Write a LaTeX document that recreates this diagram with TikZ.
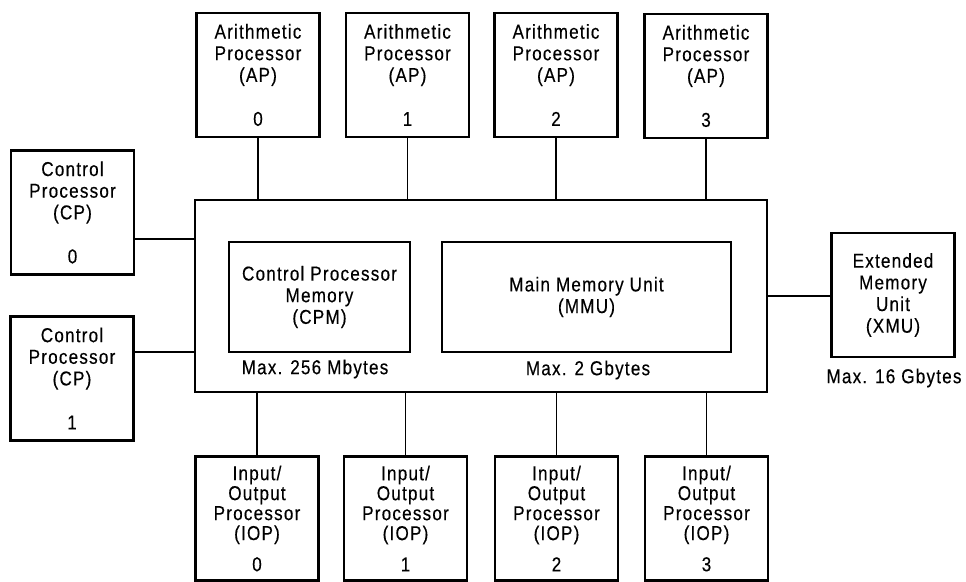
\documentclass[tikz,border=0pt]{standalone}
\usepackage{fontspec}
\setmainfont{Liberation Sans}[FakeStretch=0.85, LetterSpace=6, FakeBold=0.3]
\usetikzlibrary{calc}

\begin{document}
\begin{tikzpicture}[
  x=0.025cm, y=-0.025cm,
  unit/.style={
    draw,
    line width=1.8pt,
    align=center,
    minimum width=3.08cm,
    minimum height=3.1cm,
    inner sep=0pt,
    font=\fontsize{14.3}{15.4}\selectfont
  },
  iounit/.style={
    unit,
    font=\fontsize{14.3}{14.2}\selectfont
  },
  memory/.style={
    draw,
    line width=1.8pt,
    align=center,
    minimum height=2.75cm,
    inner sep=0pt,
    font=\fontsize{14.3}{15.4}\selectfont
  },
  sizenote/.style={font=\fontsize{14.3}{15.4}\selectfont, inner sep=0pt},
  bus/.style={line width=0.9pt}
]
  \useasboundingbox (0,0) rectangle (966,582);

  % shared memory frame
  \node[draw, line width=0.9pt, minimum width=14.3cm, minimum height=4.8cm] (main) at (481,296) {};
  \node[memory, minimum width=4.525cm] (cpm) at (319.5,297)
    {Control Processor\\Memory\\(CPM)};
  \node[memory, minimum width=7.225cm] (mmu) at (586.5,297)
    {Main Memory Unit\\(MMU)};
  \node[sizenote] (cpmsize) at (315,369) {Max. 256 Mbytes};
  \node[sizenote] (mmusize) at (588,370) {Max. 2 Gbytes};

  % arithmetic processors
  \node[unit] (ap0) at (258,75) {Arithmetic\\Processor\\(AP)\\[15.9pt]0};
  \node[unit] (ap1) at (407.5,75) {Arithmetic\\Processor\\(AP)\\[15.9pt]1};
  \node[unit] (ap2) at (556,75) {Arithmetic\\Processor\\(AP)\\[15.9pt]2};
  \node[unit] (ap3) at (706,76) {Arithmetic\\Processor\\(AP)\\[15.9pt]3};

  % control processors
  \node[unit] (cp0) at (72.5,212.5) {Control\\Processor\\(CP)\\[15.9pt]0};
  \node[unit] (cp1) at (72,378.5) {Control\\Processor\\(CP)\\[15.9pt]1};

  % extended memory
  \node[unit] (xmu) at (893,295) {Extended\\Memory\\Unit\\(XMU)};
  \node[sizenote] (xmusize) at (894,378) {Max. 16 Gbytes};

  % input/output processors
  \node[iounit] (iop0) at (257,518.5) {Input/\\Output\\Processor\\(IOP)\\[8pt]0};
  \node[iounit] (iop1) at (405.5,518.5) {Input/\\Output\\Processor\\(IOP)\\[8pt]1};
  \node[iounit] (iop2) at (556.5,518.5) {Input/\\Output\\Processor\\(IOP)\\[8pt]2};
  \node[iounit] (iop3) at (706.5,518.5) {Input/\\Output\\Processor\\(IOP)\\[8pt]3};

  % connections
  \draw[bus] (ap0.south) -- (ap0.south |- main.north);
  \draw[bus] (ap1.south) -- (ap1.south |- main.north);
  \draw[bus] (ap2.south) -- (ap2.south |- main.north);
  \draw[bus] (ap3.south) -- (ap3.south |- main.north);
  \draw[bus] (iop0.north) -- (iop0.north |- main.south);
  \draw[bus] (iop1.north) -- (iop1.north |- main.south);
  \draw[bus] (iop2.north) -- (iop2.north |- main.south);
  \draw[bus] (iop3.north) -- (iop3.north |- main.south);
  \draw[bus] ([yshift=-0.66cm]cp0.east) coordinate (cp0link) -- (cp0link -| main.west);
  \draw[bus] ([yshift=0.66cm]cp1.east) coordinate (cp1link) -- (cp1link -| main.west);
  \draw[bus] (main.east) -- (main.east -| xmu.west);
\end{tikzpicture}
\end{document}
